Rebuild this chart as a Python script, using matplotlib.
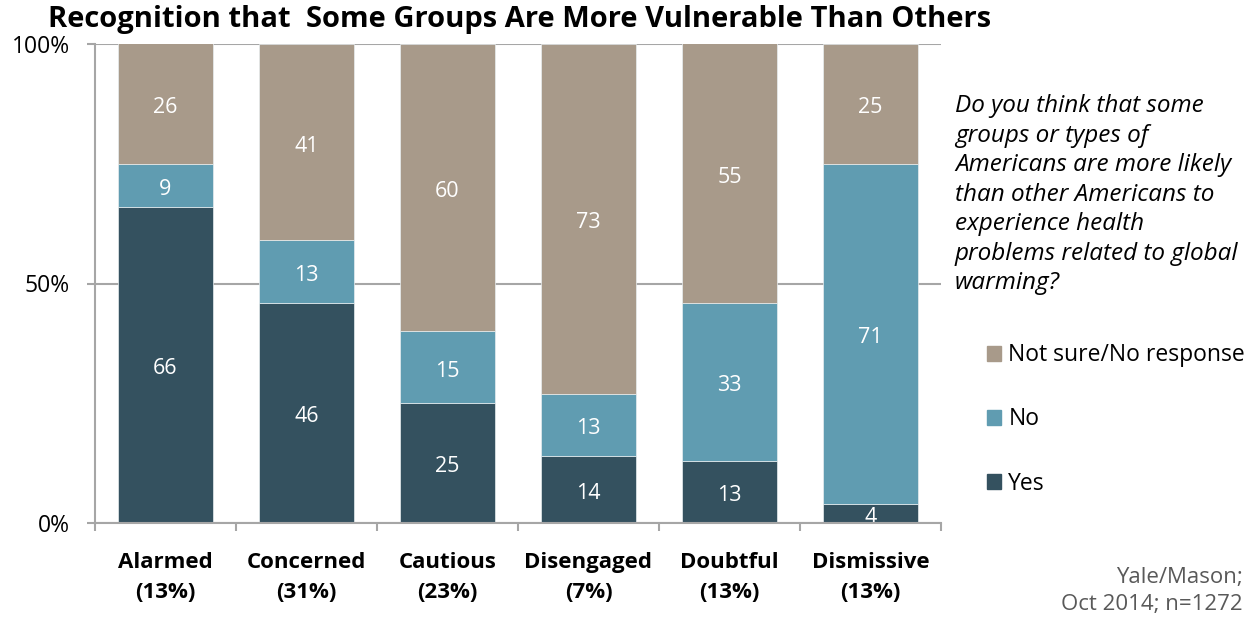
import matplotlib
matplotlib.use("Agg")
import matplotlib.pyplot as plt
from matplotlib.patches import Patch
import numpy as np

plt.rcParams['font.family'] = ['Open Sans', 'DejaVu Sans']

categories = ["Alarmed\n(13%)", "Concerned\n(31%)", "Cautious\n(23%)",
              "Disengaged\n(7%)", "Doubtful\n(13%)", "Dismissive\n(13%)"]
yes = [66, 46, 25, 14, 13, 4]
no = [9, 13, 15, 13, 33, 71]
not_sure = [26, 41, 60, 73, 55, 25]
series_names = ["Yes", "No", "Not sure/No response"]
colors = ["#34515F", "#609CB1", "#A89A8A"]
yticks = [0, 50, 100]
ytick_labels = ["0%", "50%", "100%"]

fig = plt.figure(figsize=(12.57, 6.18), dpi=100)
ax = fig.add_axes([95/1257, 1-523/618, 846/1257, 479/618])
ax.set_axisbelow(True)
ax.yaxis.grid(True, color='#A6A6A6', linewidth=1.5, zorder=0)

x = np.arange(len(categories))
w = 0.667
bottom = np.zeros(len(categories))
for vals, c, name in zip([yes, no, not_sure], colors, series_names):
    ax.bar(x, vals, w, bottom=bottom, color=c, label=name, zorder=2,
           edgecolor='#E8EEF0', linewidth=0.5)
    for xi, b, v in zip(x, bottom, vals):
        top = min(b + v, 100)
        ypos = (b + top) / 2 - 0.8
        if v < 6:
            ypos = b + v / 2 - 0.8
        ax.text(xi, ypos, str(v), ha='center', va='center', color='white',
                fontsize=15.5, zorder=3)
    bottom = bottom + np.array(vals)

ax.set_xlim(-0.5, len(categories) - 0.5)
ax.set_ylim(0, 100)
ax.set_yticks(yticks)
ax.set_yticklabels(ytick_labels, fontsize=16.5)
ax.set_xticks(x)
ax.set_xticklabels(categories, fontsize=16, fontweight='bold', linespacing=1.55)
ax.set_xticks(np.arange(-0.5, len(categories)), minor=True)
ax.tick_params(axis='x', which='major', length=0, pad=21)
ax.tick_params(axis='x', which='minor', length=6, width=1.5, color='#A6A6A6', direction='out')
ax.tick_params(axis='y', length=6, width=1.5, color='#A6A6A6', pad=12)
for s in ['top', 'right']:
    ax.spines[s].set_visible(False)
for s in ['left', 'bottom']:
    ax.spines[s].set_color('#A6A6A6')
    ax.spines[s].set_linewidth(1.5)
    ax.spines[s].set_zorder(4)

fig.text(520/1257, 1-20/618, "Recognition that  Some Groups Are More Vulnerable Than Others",
         ha='center', va='center', fontsize=21, fontweight='bold')

question = ("Do you think that some\ngroups or types of\nAmericans are more likely\n"
            "than other Americans to\nexperience health\nproblems related to global\nwarming?")
fig.text(955/1257, 1-94/618, question, ha='left', va='top', fontsize=17.5,
         style='italic', linespacing=1.31)

handles = [Patch(color=colors[2]), Patch(color=colors[1]), Patch(color=colors[0])]
labels = [series_names[2], series_names[1], series_names[0]]
fig.legend(handles, labels, loc='upper left', bbox_to_anchor=(978/1257, 1-334/618),
           frameon=False, fontsize=16.5, handlelength=0.62, handleheight=0.62,
           handletextpad=0.3, labelspacing=1.76, borderaxespad=0)

fig.text(1243/1257, 1-591/618, "Yale/Mason;\nOct 2014; n=1272", ha='right', va='center',
         fontsize=16, color='#595959', linespacing=1.35)

fig.savefig("out.png", dpi=100)
